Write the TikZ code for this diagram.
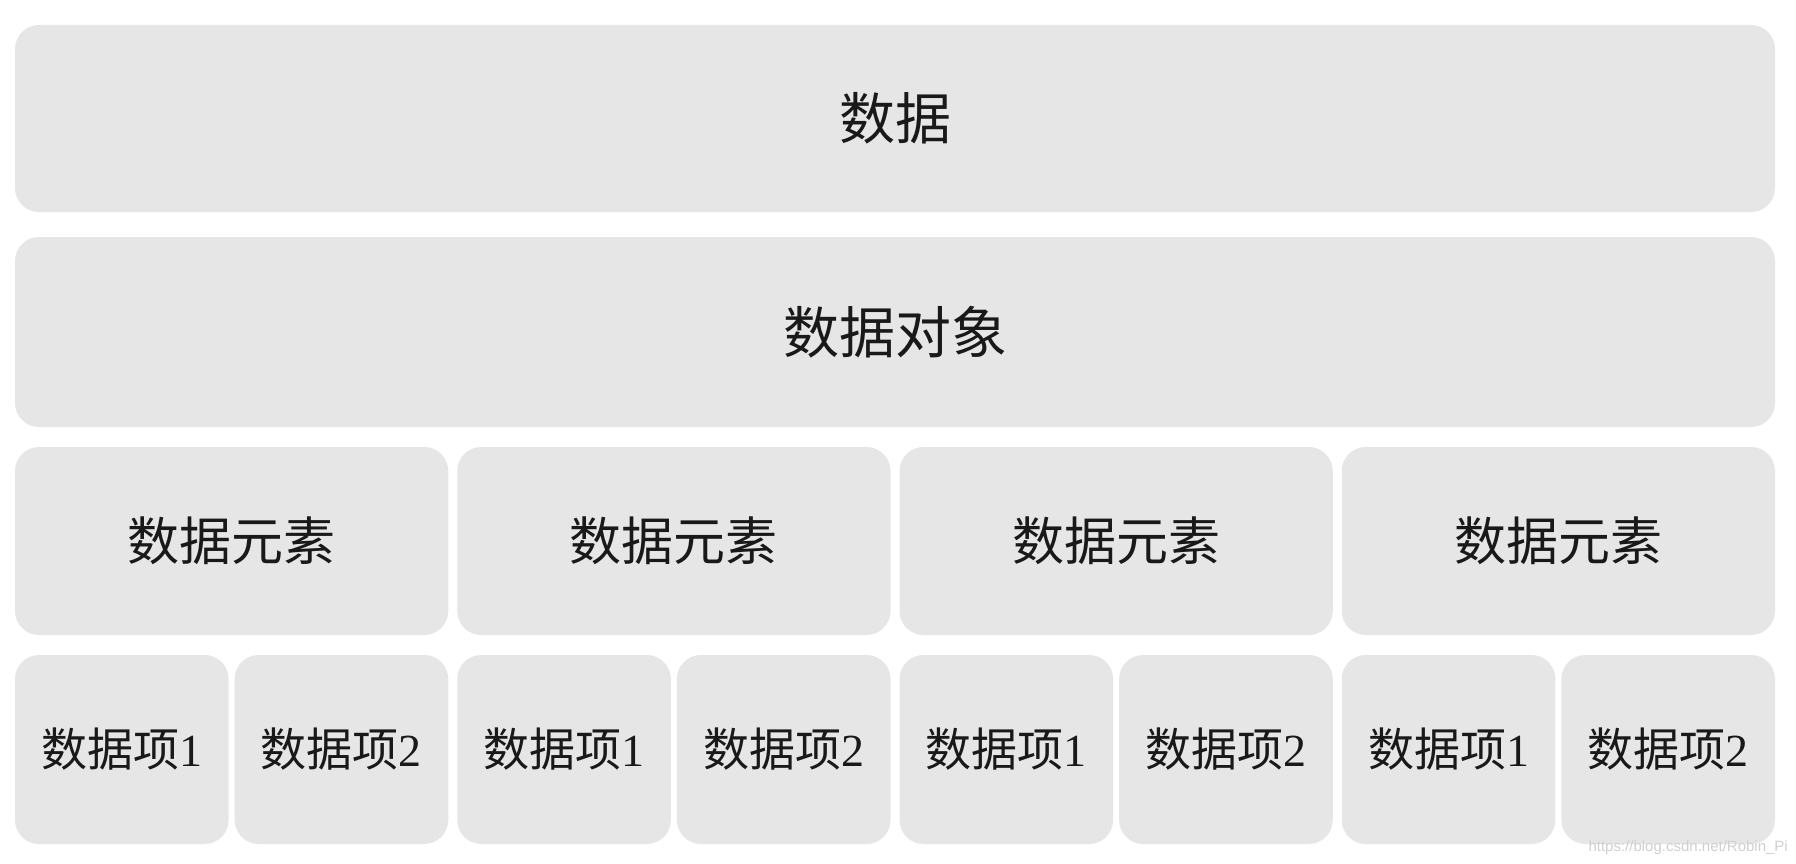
\documentclass[tikz,border=0pt]{standalone}
\usepackage{fontspec}
\setmainfont{Liberation Serif}
\newfontfamily\cjk{Noto Sans CJK SC}
\newfontfamily\wmfont{Liberation Sans}
\definecolor{boxgray}{HTML}{E6E6E6}
\definecolor{wmgray}{HTML}{D0D0D0}
\tikzset{
  layerbox/.style={fill=boxgray, draw=none, rounded corners=24pt, inner sep=0pt, text=black!90},
  bigtext/.style={font=\cjk\fontsize{56}{60}\selectfont},
  midtext/.style={font=\cjk\fontsize{52}{56}\selectfont},
  smalltext/.style={font=\cjk\fontsize{46}{50}\selectfont},
  watermark/.style={font=\wmfont\fontsize{15}{17}\selectfont, text=wmgray, inner sep=0pt}
}
\begin{document}
\begin{tikzpicture}[x=1pt,y=-1pt]
\useasboundingbox (0,0) rectangle (1796,864);
\fill[white] (0,0) rectangle (1796,864);
\node[layerbox, bigtext, minimum width=1760pt, minimum height=187pt] (data) at (895,118.5) {数据};
\node[layerbox, bigtext, minimum width=1760pt, minimum height=190pt] (obj) at (895,332) {数据对象};
\foreach \i in {0,1,2,3}{
  \pgfmathsetmacro{\ex}{15+\i*442.25+216.625}
  \pgfmathsetmacro{\ia}{15+\i*442.25+106.8}
  \pgfmathsetmacro{\ib}{15+\i*442.25+433.25-106.8}
  \node[layerbox, midtext, minimum width=433.25pt, minimum height=188pt] (el\i) at (\ex,541) {数据元素};
  \node[layerbox, smalltext, minimum width=213.6pt, minimum height=189pt] (it\i a) at (\ia,749.5) {数据项{\rmfamily 1}};
  \node[layerbox, smalltext, minimum width=213.6pt, minimum height=189pt] (it\i b) at (\ib,749.5) {数据项{\rmfamily 2}};
}
\node[watermark, anchor=east] (wm) at (1788,848) {https://blog.csdn.net/Robin\_Pi};
\end{tikzpicture}
\end{document}
